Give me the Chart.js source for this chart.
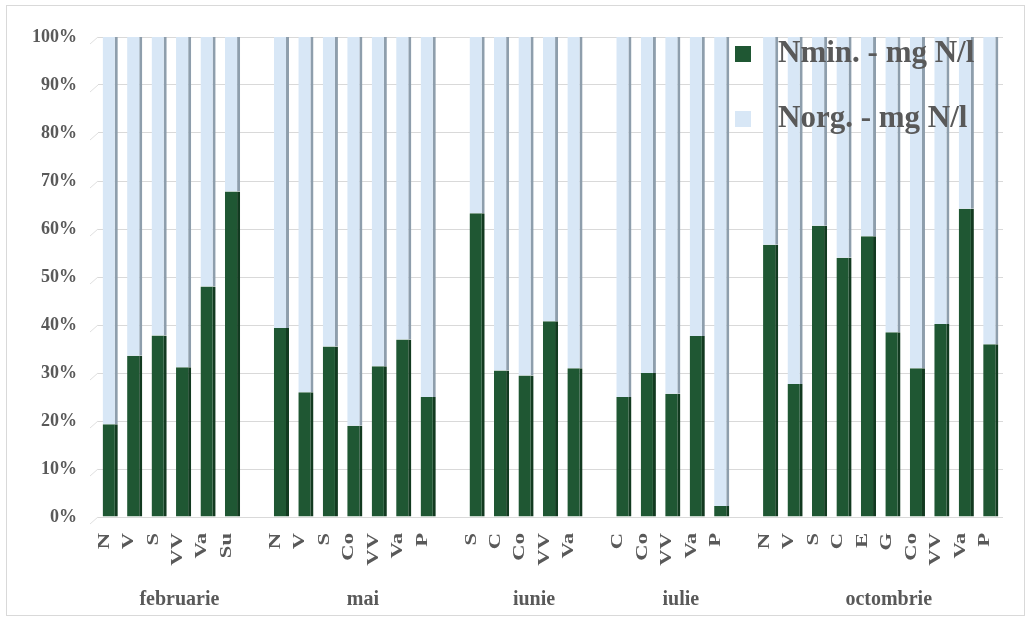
<!DOCTYPE html>
<html>
<head>
<meta charset="utf-8">
<script src="https://cdn.jsdelivr.net/npm/chart.js@4/dist/chart.umd.min.js"></script>
<style>
  html, body { margin: 0; padding: 0; background: #ffffff; }
  #wrap { width: 1034px; height: 624px; position: relative; }
</style>
</head>
<body>
<div id="wrap"><canvas id="c" width="1034" height="624"></canvas></div>
<script>
// Sampling months and station codes
const months = ['februarie', 'mai', 'iunie', 'iulie', 'octombrie'];
const stFeb = ['N', 'V', 'S', 'VV', 'Va', 'Su'];
const stMai = ['N', 'V', 'S', 'Co', 'VV', 'Va', 'P'];
const stIun = ['S', 'C', 'Co', 'VV', 'Va'];
const stIul = ['C', 'Co', 'VV', 'Va', 'P'];
const stOct = ['N', 'V', 'S', 'C', 'E', 'G', 'Co', 'VV', 'Va', 'P'];

// Share of mineral nitrogen (%)
const nminFeb = [19.3, 33.6, 37.8, 31.2, 48.0, 67.8];
const nminMai = [39.4, 26.0, 35.5, 19.0, 31.4, 37.0, 25.0];
const nminIun = [63.3, 30.5, 29.5, 40.8, 31.0];
const nminIul = [25.0, 30.0, 25.7, 37.7, 2.3];
const nminOct = [56.7, 27.7, 60.7, 54.0, 58.5, 38.5, 31.0, 40.2, 64.2, 36.0];

// Share of organic nitrogen (%)
const norgFeb = [80.7, 66.4, 62.2, 68.8, 52.0, 32.2];
const norgMai = [60.6, 74.0, 64.5, 81.0, 68.6, 63.0, 75.0];
const norgIun = [36.7, 69.5, 70.5, 59.2, 69.0];
const norgIul = [75.0, 70.0, 74.3, 62.3, 97.7];
const norgOct = [43.3, 72.3, 39.3, 46.0, 41.5, 61.5, 69.0, 59.8, 35.8, 64.0];

// Y axis tick values
const yTicks = [0, 10, 20, 30, 40, 50, 60, 70, 80, 90, 100];

const stationGroups = [stFeb, stMai, stIun, stIul, stOct];
const nminGroups = [nminFeb, nminMai, nminIun, nminIul, nminOct];
const norgGroups = [norgFeb, norgMai, norgIun, norgIul, norgOct];

// Flatten the groups, leaving one empty slot between months
const labels = [], nmin = [], norg = [], spans = [];
stationGroups.forEach((st, g) => {
  if (g > 0) { labels.push(''); nmin.push(null); norg.push(null); }
  const first = labels.length;
  st.forEach((s, i) => {
    labels.push(s);
    nmin.push(nminGroups[g][i]);
    norg.push(norgGroups[g][i]);
  });
  spans.push({ name: months[g], first: first, last: labels.length - 1 });
});

const FONT = '"Liberation Serif", "Times New Roman", serif';
const TEXT = '#595959';
const GREEN = '#1f5733';
const BLUE = '#d8e7f6';

// White background, outer frame and the small 3D floor stubs at the left of the grid
const framePlugin = {
  id: 'frame',
  beforeDraw(chart) {
    const ctx = chart.ctx;
    ctx.save();
    ctx.fillStyle = '#ffffff';
    ctx.fillRect(0, 0, chart.width, chart.height);
    ctx.strokeStyle = '#d9d9d9';
    ctx.lineWidth = 1;
    ctx.strokeRect(6.5, 5.5, 1018, 610);
    const y = chart.scales.y, left = chart.chartArea.left;
    ctx.strokeStyle = '#e0e0e0';
    yTicks.forEach(v => {
      const py = y.getPixelForValue(v);
      ctx.beginPath();
      ctx.moveTo(left - 8, py + 7);
      ctx.lineTo(left, py);
      ctx.stroke();
    });
    ctx.restore();
  }
};

// Station codes (rotated, stretched along the text) and month names under each group
const axisTextPlugin = {
  id: 'axisText',
  afterDraw(chart) {
    const ctx = chart.ctx, x = chart.scales.x;
    const top = chart.chartArea.bottom + 16;
    ctx.save();
    ctx.fillStyle = TEXT;
    ctx.font = 'bold 17px ' + FONT;
    ctx.textAlign = 'right';
    ctx.textBaseline = 'middle';
    chart.data.labels.forEach((lab, i) => {
      if (!lab) return;
      ctx.save();
      ctx.translate(x.getPixelForValue(i) - 6, top);
      ctx.rotate(-Math.PI / 2);
      ctx.scale(1.33, 1);
      ctx.fillText(lab, 0, 0);
      ctx.restore();
    });
    ctx.font = 'bold 20px ' + FONT;
    ctx.textAlign = 'center';
    spans.forEach(sp => {
      const cx = (x.getPixelForValue(sp.first) + x.getPixelForValue(sp.last)) / 2 + 8;
      ctx.fillText(sp.name, cx, 600);
    });
    ctx.restore();
  }
};

// Legend drawn inside the plot area, over the bars
const legendPlugin = {
  id: 'inlineLegend',
  afterDatasetsDraw(chart) {
    const ctx = chart.ctx;
    ctx.save();
    ctx.font = 'bold 31px ' + FONT;
    ctx.textBaseline = 'middle';
    ctx.textAlign = 'left';
    chart.data.datasets.forEach((ds, i) => {
      const cy = 54 + i * 65;
      ctx.fillStyle = ds.backgroundColor;
      ctx.fillRect(735, cy - 8, 16, 16);
      ctx.fillStyle = TEXT;
      ctx.fillText(ds.label, 778, cy);
    });
    ctx.restore();
  }
};

new Chart(document.getElementById('c'), {
  type: 'bar',
  data: {
    labels: labels,
    datasets: [
      {
        label: 'Nmin. - mg N/l',
        data: nmin,
        backgroundColor: GREEN,
        borderColor: '#123a20',
        borderWidth: { top: 0, left: 0, bottom: 0, right: 3 },
        borderSkipped: false,
        barPercentage: 0.62,
        categoryPercentage: 1.0
      },
      {
        label: 'Norg. - mg N/l',
        data: norg,
        backgroundColor: BLUE,
        borderColor: '#8e9eac',
        borderWidth: { top: 0, left: 0, bottom: 0, right: 3 },
        borderSkipped: false,
        barPercentage: 0.62,
        categoryPercentage: 1.0
      }
    ]
  },
  options: {
    responsive: false,
    animation: false,
    devicePixelRatio: 1,
    layout: { padding: { left: 0, right: 31, top: 37, bottom: 0 } },
    plugins: {
      legend: { display: false },
      tooltip: { enabled: false }
    },
    scales: {
      x: {
        stacked: true,
        grid: { display: false, drawTicks: false },
        border: { display: false },
        ticks: { display: false, autoSkip: false },
        afterFit(s) { s.height = 107; }
      },
      y: {
        stacked: true,
        min: 0,
        max: 100,
        afterBuildTicks(s) { s.ticks = yTicks.map(v => ({ value: v })); },
        grid: { color: '#d9d9d9', drawTicks: false },
        border: { display: false },
        ticks: {
          padding: 21,
          color: TEXT,
          font: { family: FONT, size: 18, weight: 'bold' },
          callback: v => v + '%'
        },
        afterFit(s) { s.width = 98; }
      }
    }
  },
  plugins: [framePlugin, axisTextPlugin, legendPlugin]
});
</script>
</body>
</html>
